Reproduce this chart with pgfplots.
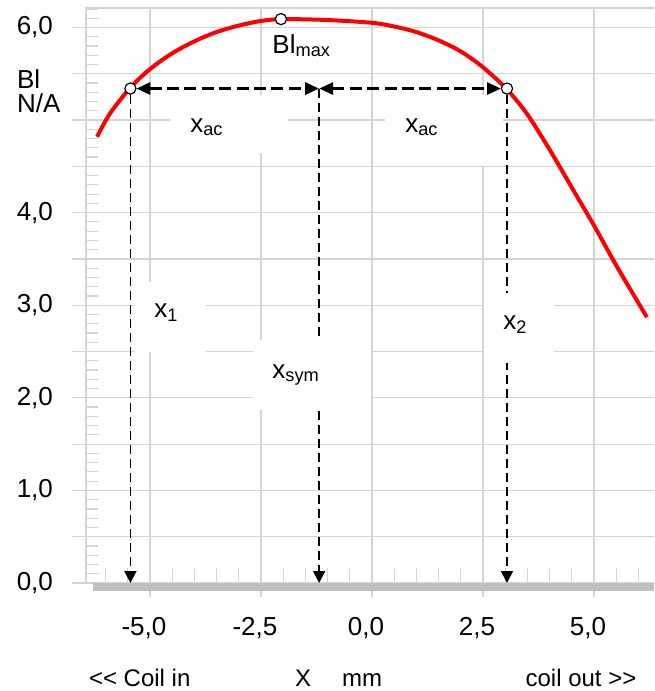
\documentclass[border=0pt]{standalone}
\usepackage{pgfplots}
\pgfplotsset{compat=1.18}
\usepackage{fontspec}
\setmainfont{Liberation Sans}
\usetikzlibrary{arrows.meta}
\definecolor{gridgray}{RGB}{212,212,212}
\definecolor{bargray}{RGB}{192,192,192}
\begin{document}
\begin{tikzpicture}[font=\fontsize{13}{15}\selectfont]
\begin{axis}[
  at={(0,0)}, anchor=south west,
  scale only axis, width=284pt, height=287.5pt,
  xmin=-6.44, xmax=6.35, ymin=0, ymax=6.21,
  clip=false,
  axis line style={draw=none},
  tick pos=left,
  xtick={-5,-2.5,0,2.5,5},
  xticklabels={{-5,0},{-2,5},{0,0},{2,5},{5,0}},
  ytick={0,0.5,...,6},
  yticklabels={{0,0},,{1,0},,{2,0},,{3,0},,{4,0},,,,{6,0}},
  grid=major,
  major grid style={gridgray, line width=0.6pt},
  tick style={gridgray, line width=0.6pt},
  tick align=outside, major tick length=7pt,
  xticklabel style={xshift=-3pt, yshift=-6.5pt},
  yticklabel style={xshift=-6pt},
  extra y ticks={0.1,0.2,...,6.2}, extra y tick labels={},
  extra y tick style={grid=none, tick align=inside, major tick length=6pt},
  extra x ticks={-6,-5.5,...,6}, extra x tick labels={},
  extra x tick style={grid=none, tick align=inside, major tick length=7.5pt},
]
% frame lines
\draw[gridgray, line width=0.6pt] (rel axis cs:0,0) -- (rel axis cs:0,1) -- (rel axis cs:1,1);
% base bar
\draw[bargray, line width=4pt] ([yshift=-2pt]axis cs:-6.28,0) -- ([yshift=-2pt]axis cs:6.35,0);
% white label boxes
\fill[white] (axis cs:-4.55,5.27) rectangle (axis cs:-1.89,4.64);
\fill[white] (axis cs:0.29,5.27) rectangle (axis cs:2.95,4.50);
\fill[white] (axis cs:-5.34,3.25) rectangle (axis cs:-3.74,2.49);
% dashed horizontal arrows
\draw[line width=1.5pt, dash pattern=on 6pt off 2.7pt, {Triangle[length=7pt,width=6pt]}-{Triangle[length=7pt,width=6pt]}, shorten <=3pt]
  (axis cs:-5.44,5.34) -- (axis cs:-1.19,5.34);
\draw[line width=1.5pt, dash pattern=on 6pt off 2.7pt, {Triangle[length=7pt,width=6pt]}-{Triangle[length=7pt,width=6pt]}, shorten >=3pt]
  (axis cs:-1.19,5.34) -- (axis cs:3.04,5.34);
% vertical dashed arrows
\draw[line width=0.9pt, dash pattern=on 4.5pt off 2.5pt, -{Triangle[length=6pt,width=6pt]}, shorten <=3pt]
  (axis cs:-5.44,5.34) -- (axis cs:-5.44,0);
\draw[line width=1pt, dash pattern=on 4.5pt off 2.5pt, -{Triangle[length=6pt,width=6pt]}]
  (axis cs:-1.19,5.34) -- (axis cs:-1.19,0);
\draw[line width=0.9pt, dash pattern=on 4.5pt off 2.5pt, -{Triangle[length=6pt,width=6pt]}, shorten <=3pt]
  (axis cs:3.04,5.34) -- (axis cs:3.04,0);
% white boxes that break the vertical lines
\fill[white] (axis cs:-2.68,2.62) rectangle (axis cs:-0.02,1.87);
\fill[white] (axis cs:2.52,3.13) rectangle (axis cs:4.10,2.38);
% Bl curve
\addplot[red, line width=2pt, smooth] coordinates {
(-6.19,4.82) (-5.90,5.07) (-5.44,5.35) (-5.00,5.55) (-4.50,5.72) (-4.00,5.85)
(-3.50,5.95) (-3.00,6.02) (-2.50,6.07) (-2.00,6.09) (-1.00,6.08) (0,6.05)
(0.50,6.01) (1.00,5.95) (1.50,5.86) (2.00,5.74) (2.50,5.57) (3.04,5.33)
(3.50,5.06) (4.00,4.68) (4.50,4.27) (5.00,3.86) (5.50,3.43) (6.19,2.87)
};
% markers
\addplot[only marks, mark=*, mark size=2.8pt, mark options={fill=white, draw=black, line width=0.6pt}]
  coordinates {(-5.44,5.34) (3.04,5.34) (-2.05,6.09)};
% labels
\node[anchor=base west, inner sep=0pt] at (axis cs:-2.25,5.72) {Bl\textsubscript{max}};
\node[anchor=base west, inner sep=0pt] at (axis cs:-4.10,4.87) {x\textsubscript{ac}};
\node[anchor=base west, inner sep=0pt] at (axis cs:0.74,4.87) {x\textsubscript{ac}};
\node[anchor=base west, inner sep=0pt] at (axis cs:-4.91,2.87) {x\textsubscript{1}};
\node[anchor=base west, inner sep=0pt] at (axis cs:-2.25,2.21) {x\textsubscript{sym}};
\node[anchor=base west, inner sep=0pt] at (axis cs:2.95,2.74) {x\textsubscript{2}};
\node[anchor=base west, inner sep=0pt] at (axis cs:-8.0,5.34) {Bl};
\node[anchor=base west, inner sep=0pt] at (axis cs:-8.0,5.08) {N/A};
\begin{scope}[font=\fontsize{12}{14}\selectfont]
\node[anchor=base west, inner sep=0pt] at (axis cs:-6.38,-1.123) {<{}< Coil in};
\node[anchor=base west, inner sep=0pt] at (axis cs:-1.74,-1.123) {X};
\node[anchor=base west, inner sep=0pt] at (axis cs:-0.68,-1.123) {mm};
\node[anchor=base west, inner sep=0pt] at (axis cs:3.45,-1.123) {coil out >{}>};
\end{scope}
\end{axis}
\pgfresetboundingbox
\path[use as bounding box] (-43pt,-54pt) rectangle (284pt,291.5pt);
\end{tikzpicture}
\end{document}
